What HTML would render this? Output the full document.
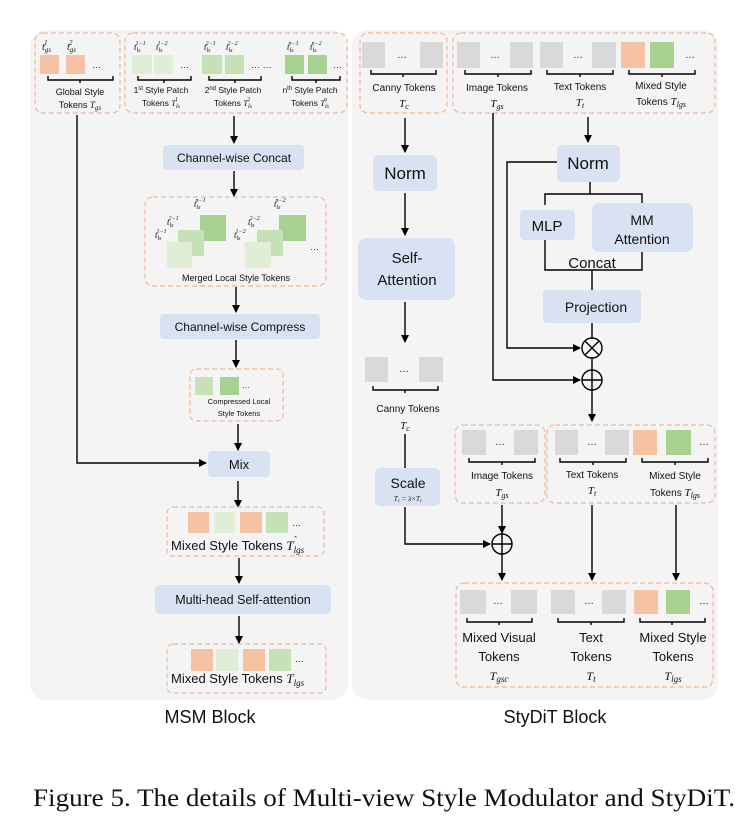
<!DOCTYPE html>
<html><head><meta charset="utf-8"><style>
html,body{margin:0;padding:0;background:#fff;}
svg{display:block;}
text{font-family:"Liberation Sans","DejaVu Sans",sans-serif;fill:#111;}
.i{font-family:"Liberation Serif",serif;font-style:italic;}
.box{fill:#d9e2f2;}
.d{fill:none;stroke:#f0b89a;stroke-width:1.2;stroke-dasharray:5,3;}
.l{stroke:#000;stroke-width:1.4;fill:none;}
.g{fill:#d9d9d9;}
.o{fill:#f5c3a3;}
.g1{fill:#e0eed8;}
.g2{fill:#c5e1b6;}
.g3{fill:#a5d291;}
.gn{fill:#a9d18e;}
</style></head><body>
<svg width="753" height="836" viewBox="0 0 753 836" xmlns="http://www.w3.org/2000/svg">
<defs><marker id="a" markerWidth="8" markerHeight="8" refX="7" refY="4" orient="auto" markerUnits="userSpaceOnUse"><path d="M0,0 L8,4 L0,8 z" fill="#000"/></marker></defs>
<rect x="30" y="30" width="318" height="670" rx="16" fill="#f4f4f4"/>
<rect x="352" y="30" width="366" height="670" rx="16" fill="#f4f4f4"/>

<!-- LEFT top -->
<rect class="d" x="35" y="33" width="85" height="80" rx="8"/>
<rect class="d" x="125" y="33" width="222" height="80" rx="8"/>
<text class="i" x="42" y="50" font-size="10">t<tspan font-size="7" dy="2">gs</tspan><tspan font-size="7" dy="-7" dx="-7">1</tspan></text>
<text class="i" x="67" y="50" font-size="10">t<tspan font-size="7" dy="2">gs</tspan><tspan font-size="7" dy="-7" dx="-7">2</tspan></text>
<rect class="o" x="40" y="55" width="19" height="19"/><rect class="o" x="66" y="55" width="19" height="19"/>
<text x="92" y="68" font-size="9">…</text>
<path class="l" d="M48,76 v4 h65 v-4 M80,80 v3" stroke-width="1.2"/>
<text x="80" y="95" font-size="9" text-anchor="middle">Global Style</text>
<text x="80" y="108" font-size="9" text-anchor="middle">Tokens <tspan class="i">T<tspan font-size="7" dy="2">gs</tspan></tspan></text>

<text class="i" x="134" y="50" font-size="9">t<tspan font-size="6" dy="2">ls</tspan><tspan font-size="6" dy="-7" dx="-5">1−1</tspan></text>
<text class="i" x="156" y="50" font-size="9">t<tspan font-size="6" dy="2">ls</tspan><tspan font-size="6" dy="-7" dx="-5">1−2</tspan></text>
<text class="i" x="204" y="50" font-size="9">t<tspan font-size="6" dy="2">ls</tspan><tspan font-size="6" dy="-7" dx="-5">2−1</tspan></text>
<text class="i" x="226" y="50" font-size="9">t<tspan font-size="6" dy="2">ls</tspan><tspan font-size="6" dy="-7" dx="-5">2−2</tspan></text>
<text class="i" x="287" y="50" font-size="9">t<tspan font-size="6" dy="2">ls</tspan><tspan font-size="6" dy="-7" dx="-5">n−1</tspan></text>
<text class="i" x="310" y="50" font-size="9">t<tspan font-size="6" dy="2">ls</tspan><tspan font-size="6" dy="-7" dx="-5">n−2</tspan></text>
<rect class="g1" x="132" y="55" width="20" height="19"/><rect class="g1" x="154" y="55" width="19" height="19"/>
<text x="180" y="68" font-size="9">…</text>
<rect class="g2" x="202" y="55" width="20" height="19"/><rect class="g2" x="225" y="55" width="19" height="19"/>
<text x="251" y="68" font-size="9">…  …</text>
<rect class="g3" x="285" y="55" width="19" height="19"/><rect class="g3" x="308" y="55" width="19" height="19"/>
<text x="333" y="68" font-size="9">…</text>
<path class="l" d="M138,76 v4 h53 v-4 M164,80 v3 M209,76 v4 h52 v-4 M235,80 v3 M292,76 v4 h48 v-4 M316,80 v3" stroke-width="1.2"/>
<text x="161" y="93" font-size="8.5" text-anchor="middle">1<tspan font-size="6" dy="-3">st</tspan><tspan dy="3"> Style Patch</tspan></text>
<text x="161" y="106" font-size="8.5" text-anchor="middle">Tokens <tspan class="i">T<tspan font-size="6" dy="2">ls</tspan><tspan font-size="6" dy="-7" dx="-5">1</tspan></tspan></text>
<text x="233" y="93" font-size="8.5" text-anchor="middle">2<tspan font-size="6" dy="-3">nd</tspan><tspan dy="3"> Style Patch</tspan></text>
<text x="233" y="106" font-size="8.5" text-anchor="middle">Tokens <tspan class="i">T<tspan font-size="6" dy="2">ls</tspan><tspan font-size="6" dy="-7" dx="-5">2</tspan></tspan></text>
<text x="310" y="93" font-size="8.5" text-anchor="middle">n<tspan font-size="6" dy="-3">th</tspan><tspan dy="3"> Style Patch</tspan></text>
<text x="310" y="106" font-size="8.5" text-anchor="middle">Tokens <tspan class="i">T<tspan font-size="6" dy="2">ls</tspan><tspan font-size="6" dy="-7" dx="-5">n</tspan></tspan></text>

<line class="l" x1="234" y1="116" x2="234" y2="143" marker-end="url(#a)"/>
<rect class="box" x="163" y="145" width="141" height="25" rx="4"/>
<text x="234" y="162" font-size="12" text-anchor="middle">Channel-wise Concat</text>
<line class="l" x1="234" y1="171" x2="234" y2="196" marker-end="url(#a)"/>
<rect class="d" x="145" y="197" width="181" height="89" rx="8"/>
<rect class="g3" x="200" y="215" width="26" height="26"/><rect class="g2" x="178" y="230" width="26" height="26"/><rect class="g1" x="167" y="242" width="25" height="26"/>
<rect class="g3" x="279" y="215" width="27" height="26"/><rect class="g2" x="257" y="230" width="26" height="26"/><rect class="g1" x="245" y="242" width="26" height="26"/>
<text x="310" y="250" font-size="9">…</text>
<text class="i" x="194" y="207" font-size="9">t<tspan font-size="6" dy="2">ls</tspan><tspan font-size="6" dy="-7" dx="-5">n−1</tspan></text>
<text class="i" x="167" y="225" font-size="9">t<tspan font-size="6" dy="2">ls</tspan><tspan font-size="6" dy="-7" dx="-5">2−1</tspan></text>
<text class="i" x="155" y="238" font-size="9">t<tspan font-size="6" dy="2">ls</tspan><tspan font-size="6" dy="-7" dx="-5">1−1</tspan></text>
<text class="i" x="274" y="207" font-size="9">t<tspan font-size="6" dy="2">ls</tspan><tspan font-size="6" dy="-7" dx="-5">n−2</tspan></text>
<text class="i" x="248" y="225" font-size="9">t<tspan font-size="6" dy="2">ls</tspan><tspan font-size="6" dy="-7" dx="-5">2−2</tspan></text>
<text class="i" x="234" y="238" font-size="9">t<tspan font-size="6" dy="2">ls</tspan><tspan font-size="6" dy="-7" dx="-5">1−2</tspan></text>
<text x="236" y="281" font-size="9" text-anchor="middle">Merged Local Style Tokens</text>
<line class="l" x1="236" y1="287" x2="236" y2="312" marker-end="url(#a)"/>
<rect class="box" x="160" y="314" width="160" height="25" rx="4"/>
<text x="240" y="331" font-size="12" text-anchor="middle">Channel-wise Compress</text>
<line class="l" x1="236" y1="340" x2="236" y2="367" marker-end="url(#a)"/>
<rect class="d" x="190" y="369" width="93" height="52" rx="6"/>
<rect class="g2" x="195" y="377" width="18" height="18"/><rect class="g3" x="220" y="377" width="19" height="18"/>
<text x="242" y="388" font-size="8">…</text>
<text x="239" y="404" font-size="7.5" text-anchor="middle">Compressed Local</text>
<text x="239" y="416" font-size="7.5" text-anchor="middle">Style Tokens</text>
<line class="l" x1="238" y1="424" x2="238" y2="450" marker-end="url(#a)"/>
<path class="l" d="M77,115 V463 H206" marker-end="url(#a)"/>
<rect class="box" x="208" y="451" width="62" height="26" rx="4"/>
<text x="239" y="469" font-size="13" text-anchor="middle">Mix</text>
<line class="l" x1="238" y1="481" x2="238" y2="507" marker-end="url(#a)"/>
<rect class="d" x="167" y="507" width="157" height="49" rx="6"/>
<rect class="o" x="188" y="512" width="21" height="21"/><rect class="g1" x="214" y="512" width="21" height="21"/><rect class="o" x="240" y="512" width="22" height="21"/><rect class="g2" x="266" y="512" width="22" height="21"/>
<text x="292" y="526" font-size="9">…</text>
<text x="171" y="550" font-size="13">Mixed Style Tokens <tspan class="i">T<tspan font-size="9" dy="3">lgs</tspan></tspan></text>
<text x="294" y="543" font-size="9">ˆ</text>
<line class="l" x1="239" y1="558" x2="239" y2="583" marker-end="url(#a)"/>
<rect class="box" x="155" y="585" width="176" height="29" rx="5"/>
<text x="243" y="604" font-size="12.5" text-anchor="middle">Multi-head Self-attention</text>
<line class="l" x1="239" y1="616" x2="239" y2="643" marker-end="url(#a)"/>
<rect class="d" x="167" y="644" width="159" height="49" rx="6"/>
<rect class="o" x="191" y="649" width="22" height="22"/><rect class="g1" x="216" y="649" width="22" height="22"/><rect class="o" x="243" y="649" width="22" height="22"/><rect class="g2" x="269" y="649" width="22" height="22"/>
<text x="295" y="662" font-size="9">…</text>
<text x="171" y="683" font-size="13">Mixed Style Tokens <tspan class="i">T<tspan font-size="9" dy="3">lgs</tspan></tspan></text>
<text x="210" y="723" font-size="18" text-anchor="middle">MSM Block</text>

<!-- RIGHT -->
<rect class="d" x="360" y="33" width="87" height="80" rx="8"/>
<rect class="d" x="453" y="33" width="262" height="80" rx="8"/>
<rect class="g" x="362" y="42" width="23" height="26"/><rect class="g" x="420" y="42" width="23" height="26"/>
<text x="402" y="58" font-size="10" text-anchor="middle">…</text>
<rect class="g" x="457" y="42" width="23" height="26"/><rect class="g" x="510" y="42" width="23" height="26"/>
<text x="495" y="58" font-size="10" text-anchor="middle">…</text>
<rect class="g" x="540" y="42" width="23" height="26"/><rect class="g" x="592" y="42" width="24" height="26"/>
<text x="578" y="58" font-size="10" text-anchor="middle">…</text>
<rect class="o" x="621" y="42" width="24" height="26"/><rect class="gn" x="650" y="42" width="24" height="26"/>
<text x="690" y="58" font-size="10" text-anchor="middle">…</text>
<path class="l" d="M371,70 v4 h65 v-4 M403,74 v3 M465,70 v4 h66 v-4 M498,74 v3 M547,70 v4 h66 v-4 M580,74 v3 M629,70 v4 h66 v-4 M662,74 v3" stroke-width="1.2"/>
<text x="404" y="91" font-size="10" text-anchor="middle">Canny Tokens</text>
<text class="i" x="404" y="107" font-size="11" text-anchor="middle">T<tspan font-size="8" dy="2">c</tspan></text>
<text x="497" y="91" font-size="10" text-anchor="middle">Image Tokens</text>
<text class="i" x="497" y="107" font-size="11" text-anchor="middle">T<tspan font-size="8" dy="2">gs</tspan></text>
<text x="580" y="90" font-size="10" text-anchor="middle">Text Tokens</text>
<text class="i" x="580" y="106" font-size="11" text-anchor="middle">T<tspan font-size="8" dy="2">t</tspan></text>
<text x="661" y="89" font-size="10" text-anchor="middle">Mixed Style</text>
<text x="661" y="105" font-size="10" text-anchor="middle">Tokens <tspan class="i" font-size="11">T<tspan font-size="8" dy="2">lgs</tspan></tspan></text>

<line class="l" x1="405" y1="118" x2="405" y2="152" marker-end="url(#a)"/>
<rect class="box" x="373" y="155" width="64" height="36" rx="5"/>
<text x="405" y="179" font-size="17" text-anchor="middle">Norm</text>
<line class="l" x1="405" y1="193" x2="405" y2="235" marker-end="url(#a)"/>
<rect class="box" x="358" y="238" width="97" height="62" rx="8"/>
<text x="407" y="263" font-size="15" text-anchor="middle">Self-</text>
<text x="407" y="285" font-size="15" text-anchor="middle">Attention</text>
<line class="l" x1="405" y1="302" x2="405" y2="342" marker-end="url(#a)"/>
<rect class="g" x="365" y="357" width="23" height="25"/><rect class="g" x="419" y="357" width="24" height="25"/>
<text x="404" y="372" font-size="10" text-anchor="middle">…</text>
<path class="l" d="M373,386 v4 h65 v-4 M405,390 v3" stroke-width="1.2"/>
<text x="408" y="412" font-size="10" text-anchor="middle">Canny Tokens</text>
<text class="i" x="405" y="429" font-size="11" text-anchor="middle">T<tspan font-size="8" dy="2">c</tspan></text>
<line class="l" x1="405" y1="434" x2="405" y2="468"/>
<rect class="box" x="375" y="468" width="65" height="38" rx="5"/>
<text x="408" y="488" font-size="14" text-anchor="middle">Scale</text>
<text class="i" x="408" y="501" font-size="7" text-anchor="middle">T<tspan font-size="5" dy="1">c</tspan><tspan dy="-1"> = λ×T</tspan><tspan font-size="5" dy="1">c</tspan></text>
<path class="l" d="M405,507 V544 H490" marker-end="url(#a)"/>

<path class="l" d="M493,113 V380 H580" marker-end="url(#a)"/>
<line class="l" x1="588" y1="117" x2="588" y2="142" marker-end="url(#a)"/>
<rect class="box" x="557" y="145" width="63" height="37" rx="5"/>
<text x="588" y="169" font-size="17" text-anchor="middle">Norm</text>
<path class="l" d="M557,162 H507 V348 H580" marker-end="url(#a)"/>
<path class="l" d="M590,182 V194 M545,205 V194 H642 V203"/>
<rect class="box" x="520" y="210" width="55" height="30" rx="4"/>
<text x="547" y="231" font-size="15" text-anchor="middle">MLP</text>
<rect class="box" x="592" y="203" width="101" height="49" rx="7"/>
<text x="642" y="225" font-size="14" text-anchor="middle">MM</text>
<text x="642" y="244" font-size="14" text-anchor="middle">Attention</text>
<path class="l" d="M545,240 V270 H642 V252 M592,270 V290"/>
<text x="592" y="268" font-size="15" text-anchor="middle">Concat</text>
<rect class="box" x="543" y="290" width="98" height="33" rx="4"/>
<text x="596" y="312" font-size="14" text-anchor="middle">Projection</text>
<line class="l" x1="592" y1="323" x2="592" y2="338"/>
<circle class="l" cx="592" cy="348" r="10"/>
<path class="l" d="M585,341 L599,355 M599,341 L585,355"/>
<line class="l" x1="592" y1="358" x2="592" y2="370"/>
<circle class="l" cx="592" cy="380" r="10"/>
<path class="l" d="M582,380 H602 M592,370 V390"/>
<line class="l" x1="592" y1="390" x2="592" y2="421" marker-end="url(#a)"/>

<rect class="d" x="455" y="425" width="90" height="78" rx="8"/>
<rect class="d" x="547" y="425" width="168" height="78" rx="8"/>
<rect class="g" x="462" y="430" width="24" height="25"/><rect class="g" x="514" y="430" width="24" height="25"/>
<text x="500" y="445" font-size="10" text-anchor="middle">…</text>
<rect class="g" x="555" y="430" width="23" height="25"/><rect class="g" x="605" y="430" width="24" height="25"/>
<text x="592" y="445" font-size="10" text-anchor="middle">…</text>
<rect class="o" x="633" y="430" width="24" height="25"/><rect class="gn" x="666" y="430" width="25" height="25"/>
<text x="704" y="445" font-size="10" text-anchor="middle">…</text>
<path class="l" d="M469,458 v4 h66 v-4 M502,462 v3 M560,458 v4 h66 v-4 M593,462 v3 M642,458 v4 h66 v-4 M675,462 v3" stroke-width="1.2"/>
<text x="502" y="479" font-size="10" text-anchor="middle">Image Tokens</text>
<text class="i" x="502" y="496" font-size="11" text-anchor="middle">T<tspan font-size="8" dy="2">gs</tspan></text>
<text x="592" y="478" font-size="10" text-anchor="middle">Text Tokens</text>
<text class="i" x="592" y="494" font-size="11" text-anchor="middle">T<tspan font-size="8" dy="2">t</tspan></text>
<text x="675" y="479" font-size="10" text-anchor="middle">Mixed Style</text>
<text x="675" y="496" font-size="10" text-anchor="middle">Tokens <tspan class="i" font-size="11">T<tspan font-size="8" dy="2">lgs</tspan></tspan></text>

<line class="l" x1="502" y1="505" x2="502" y2="533" marker-end="url(#a)"/>
<circle class="l" cx="502" cy="544" r="10"/>
<path class="l" d="M492,544 H512 M502,534 V554"/>
<line class="l" x1="502" y1="554" x2="502" y2="580" marker-end="url(#a)"/>
<line class="l" x1="592" y1="505" x2="592" y2="580" marker-end="url(#a)"/>
<line class="l" x1="676" y1="505" x2="676" y2="580" marker-end="url(#a)"/>

<rect class="d" x="456" y="583" width="257" height="104" rx="8"/>
<rect class="g" x="460" y="590" width="26" height="24"/><rect class="g" x="511" y="590" width="26" height="24"/>
<text x="498" y="604" font-size="10" text-anchor="middle">…</text>
<rect class="g" x="551" y="590" width="24" height="24"/><rect class="g" x="602" y="590" width="24" height="24"/>
<text x="589" y="604" font-size="10" text-anchor="middle">…</text>
<rect class="o" x="634" y="590" width="24" height="24"/><rect class="gn" x="666" y="590" width="24" height="24"/>
<text x="704" y="604" font-size="10" text-anchor="middle">…</text>
<path class="l" d="M467,618 v4 h65 v-4 M499,622 v3 M558,618 v4 h66 v-4 M591,622 v3 M640,618 v4 h65 v-4 M672,622 v3" stroke-width="1.2"/>
<text x="499" y="642" font-size="13" text-anchor="middle">Mixed Visual</text>
<text x="499" y="661" font-size="13" text-anchor="middle">Tokens</text>
<text class="i" x="499" y="680" font-size="12" text-anchor="middle">T<tspan font-size="9" dy="2">gsc</tspan></text>
<text x="591" y="642" font-size="13" text-anchor="middle">Text</text>
<text x="591" y="661" font-size="13" text-anchor="middle">Tokens</text>
<text class="i" x="591" y="680" font-size="12" text-anchor="middle">T<tspan font-size="9" dy="2">t</tspan></text>
<text x="673" y="642" font-size="13" text-anchor="middle">Mixed Style</text>
<text x="673" y="661" font-size="13" text-anchor="middle">Tokens</text>
<text class="i" x="673" y="680" font-size="12" text-anchor="middle">T<tspan font-size="9" dy="2">lgs</tspan></text>
<text x="555" y="723" font-size="18" text-anchor="middle">StyDiT Block</text>

<text x="33" y="806" font-size="25" textLength="702" lengthAdjust="spacingAndGlyphs" style="font-family:'Liberation Serif',serif">Figure 5. The details of Multi-view Style Modulator and StyDiT.</text>
</svg>
</body></html>
